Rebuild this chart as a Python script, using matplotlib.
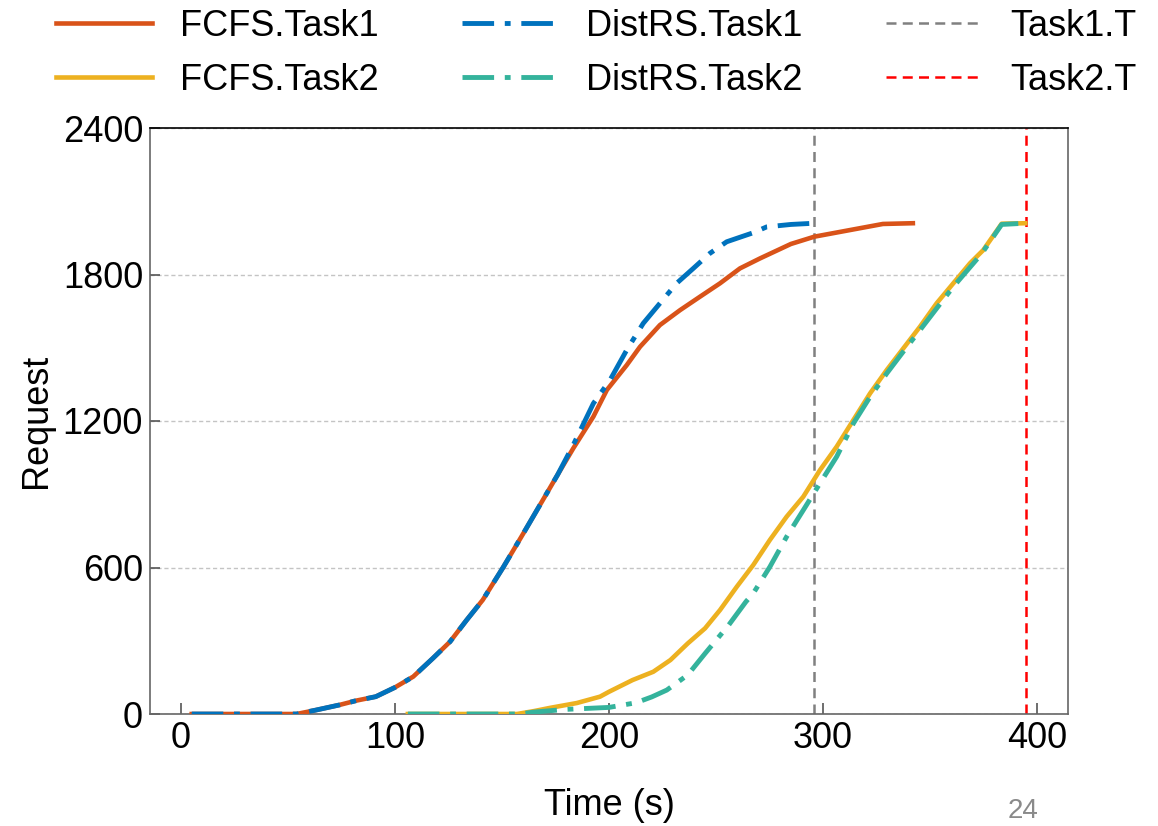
import matplotlib
matplotlib.use("Agg")
import matplotlib.pyplot as plt

plt.rcParams['font.family'] = ['Liberation Sans', 'DejaVu Sans']

# ---- data ----
fcfs1_t = [5, 54, 63, 74, 82, 91, 100, 108.5, 117.8, 125.7, 133.5, 141, 150.5, 160, 170, 176,
           183.3, 192.7, 199, 208.3, 214.5, 223.8, 233.2, 242.5, 251.9, 261.2, 270.6, 285, 296,
           312.6, 328, 342]
fcfs1_y = [0, 0, 16, 37, 55, 71, 109, 153, 229, 296, 385, 467, 600, 740, 890, 980,
           1088, 1218, 1327, 1429, 1504, 1593, 1654, 1709, 1764, 1825, 1866, 1925, 1955,
           1982, 2007, 2010]

dist1_t = [5, 54, 63, 74, 82, 91, 100, 108.5, 117.8, 125.7, 133.5, 141, 150.5, 160, 170, 176,
           183.3, 192.7, 200.5, 208.3, 216, 223.8, 231.6, 239.4, 247.2, 255, 262, 267.4, 273.7,
           285, 296]
dist1_y = [0, 0, 16, 37, 55, 71, 109, 153, 229, 296, 385, 467, 600, 740, 890, 980,
           1102, 1272, 1368, 1491, 1600, 1682, 1764, 1825, 1887, 1934, 1955, 1971, 1995,
           2005, 2010]

fcfs2_t = [106, 157, 165, 172.4, 185, 195.8, 200, 211, 220.7, 228.7, 236.8, 244.9, 251.9, 259.7,
           267.4, 275.2, 283, 290.8, 298.6, 306.4, 314.2, 322, 329.8, 337.5, 345.3, 353.1,
           360.9, 368.7, 374.9, 383.5, 394.5]
fcfs2_y = [0, 0, 12, 25, 45, 71, 91, 139, 173, 221, 289, 351, 426, 521,
           610, 713, 808, 890, 999, 1095, 1204, 1313, 1409, 1497, 1586, 1682,
           1764, 1846, 1900, 2008, 2010]

dist2_t = [106, 158, 165, 180, 200, 212.6, 220, 227, 236.8, 245, 256, 264, 267.4, 275.2, 283,
           290.8, 298.6, 306.4, 314.2, 322, 329.8, 337.5, 345.3, 353.1, 360.9, 370.3, 374.3,
           383.5, 394.5]
dist2_y = [0, 0, 8, 19, 27, 46, 70, 98, 160, 249, 365, 460, 494, 603, 726,
           835, 945, 1054, 1190, 1299, 1395, 1484, 1572, 1661, 1750, 1846, 1887,
           2005, 2010]

task1_T = 296
task2_T = 395

xticks = [0, 100, 200, 300, 400]
yticks = [0, 600, 1200, 1800, 2400]

# ---- figure ----
fig = plt.figure(figsize=(11.58, 8.26), dpi=100)
ax = fig.add_axes([150/1158, 1-714/826, (1068-150)/1158, (714-128)/826])

c_or = '#D95319'
c_ye = '#EDB120'
c_bl = '#0072BD'
c_te = '#34B39C'

FS = 26

ax.plot(fcfs1_t, fcfs1_y, color=c_or, lw=3.3, label='FCFS.Task1', zorder=3)
ax.plot(fcfs2_t, fcfs2_y, color=c_ye, lw=3.3, label='FCFS.Task2', zorder=3)
ax.plot(dist1_t, dist1_y, color=c_bl, lw=3.5, ls=(0, (6.5, 2.2, 1.2, 2.2)), label='DistRS.Task1', zorder=4)
ax.plot(dist2_t, dist2_y, color=c_te, lw=3.5, ls=(0, (6.5, 2.2, 1.2, 2.2)), label='DistRS.Task2', zorder=4)
ax.axvline(task1_T, color='#808080', lw=1.8, ls=(0, (4, 2.5)), label='Task1.T', zorder=2)
ax.axvline(task2_T, color='#FF0000', lw=1.8, ls=(0, (4, 2.5)), label='Task2.T', zorder=2)

ax.set_xlim(-14.5, 414.5)
ax.set_ylim(0, 2400)
ax.set_xticks(xticks)
ax.set_yticks(yticks)
ax.yaxis.grid(True, color='#c4c4c4', ls=(0, (3, 2)), lw=1.0)
ax.set_axisbelow(True)

ax.tick_params(axis='both', direction='in', labelsize=FS, colors='#555555', labelcolor='black', width=1.2)
ax.tick_params(axis='x', length=8, pad=5)
ax.tick_params(axis='y', length=7, pad=5)

for s in ['left', 'bottom', 'right']:
    ax.spines[s].set_color('#666666')
    ax.spines[s].set_linewidth(1.2)
ax.spines['top'].set_color('black')
ax.spines['top'].set_linewidth(1.2)

ax.set_xlabel('Time (s)', fontsize=FS, labelpad=23)
ax.set_ylabel('Request', fontsize=FS, labelpad=6)

fig.legend(loc='center left', bbox_to_anchor=(56/1158, 1-53.5/826), ncol=3, frameon=False,
           fontsize=FS, handlelength=2.66, handletextpad=0.78, columnspacing=2.3,
           labelspacing=0.52, borderaxespad=0, borderpad=0)

fig.text(1023/1158, 1-824/826, '24', color='#8a8a8a', fontsize=20, ha='center', va='bottom')

fig.savefig('out.png', dpi=100)
